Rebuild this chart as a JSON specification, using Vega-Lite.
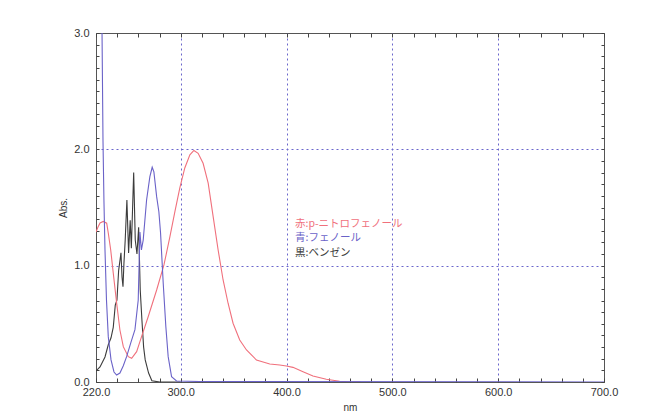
{
  "$schema": "https://vega.github.io/schema/vega-lite/v6.json",
  "width": 508,
  "height": 349,
  "autosize": {"type": "none"},
  "padding": {"left": 96, "top": 33, "right": 63, "bottom": 36},
  "background": "white",
  "config": {
    "view": {"stroke": "#555555", "strokeWidth": 1},
    "font": "Liberation Sans"
  },
  "datasets": {
    "spectra": [
      {"compound": "benzene", "nm": 220.0, "abs": 0.095},
      {"compound": "benzene", "nm": 223.8, "abs": 0.13},
      {"compound": "benzene", "nm": 228.5, "abs": 0.215},
      {"compound": "benzene", "nm": 231.6, "abs": 0.32},
      {"compound": "benzene", "nm": 234.2, "abs": 0.38},
      {"compound": "benzene", "nm": 236.3, "abs": 0.47},
      {"compound": "benzene", "nm": 238.2, "abs": 0.66},
      {"compound": "benzene", "nm": 239.8, "abs": 0.705},
      {"compound": "benzene", "nm": 241.4, "abs": 0.96},
      {"compound": "benzene", "nm": 243.6, "abs": 1.11},
      {"compound": "benzene", "nm": 244.6, "abs": 0.9},
      {"compound": "benzene", "nm": 245.5, "abs": 0.82},
      {"compound": "benzene", "nm": 246.4, "abs": 1.02},
      {"compound": "benzene", "nm": 247.6, "abs": 1.22},
      {"compound": "benzene", "nm": 249.2, "abs": 1.565},
      {"compound": "benzene", "nm": 250.8, "abs": 1.11},
      {"compound": "benzene", "nm": 252.3, "abs": 1.39},
      {"compound": "benzene", "nm": 253.4, "abs": 1.15},
      {"compound": "benzene", "nm": 255.6, "abs": 1.8},
      {"compound": "benzene", "nm": 257.1, "abs": 1.22},
      {"compound": "benzene", "nm": 258.7, "abs": 1.1},
      {"compound": "benzene", "nm": 260.3, "abs": 1.33},
      {"compound": "benzene", "nm": 261.8, "abs": 0.79},
      {"compound": "benzene", "nm": 263.4, "abs": 0.53},
      {"compound": "benzene", "nm": 265.0, "abs": 0.3},
      {"compound": "benzene", "nm": 266.5, "abs": 0.19},
      {"compound": "benzene", "nm": 269.7, "abs": 0.077},
      {"compound": "benzene", "nm": 272.8, "abs": 0.01},
      {"compound": "benzene", "nm": 280.4, "abs": 0.0},
      {"compound": "benzene", "nm": 300.0, "abs": 0.0},
      {"compound": "nitrophenol", "nm": 220.0, "abs": 1.29},
      {"compound": "nitrophenol", "nm": 221.9, "abs": 1.333},
      {"compound": "nitrophenol", "nm": 223.8, "abs": 1.367},
      {"compound": "nitrophenol", "nm": 226.9, "abs": 1.38},
      {"compound": "nitrophenol", "nm": 230.1, "abs": 1.365},
      {"compound": "nitrophenol", "nm": 231.6, "abs": 1.281},
      {"compound": "nitrophenol", "nm": 233.9, "abs": 1.135},
      {"compound": "nitrophenol", "nm": 236.3, "abs": 0.937},
      {"compound": "nitrophenol", "nm": 239.5, "abs": 0.679},
      {"compound": "nitrophenol", "nm": 242.6, "abs": 0.447},
      {"compound": "nitrophenol", "nm": 245.8, "abs": 0.304},
      {"compound": "nitrophenol", "nm": 250.5, "abs": 0.218},
      {"compound": "nitrophenol", "nm": 253.7, "abs": 0.204},
      {"compound": "nitrophenol", "nm": 258.4, "abs": 0.261},
      {"compound": "nitrophenol", "nm": 261.5, "abs": 0.347},
      {"compound": "nitrophenol", "nm": 269.3, "abs": 0.561},
      {"compound": "nitrophenol", "nm": 277.3, "abs": 0.791},
      {"compound": "nitrophenol", "nm": 284.2, "abs": 1.006},
      {"compound": "nitrophenol", "nm": 289.8, "abs": 1.247},
      {"compound": "nitrophenol", "nm": 294.5, "abs": 1.462},
      {"compound": "nitrophenol", "nm": 299.2, "abs": 1.668},
      {"compound": "nitrophenol", "nm": 303.9, "abs": 1.84},
      {"compound": "nitrophenol", "nm": 308.7, "abs": 1.952},
      {"compound": "nitrophenol", "nm": 312.5, "abs": 1.99},
      {"compound": "nitrophenol", "nm": 316.5, "abs": 1.966},
      {"compound": "nitrophenol", "nm": 321.2, "abs": 1.88},
      {"compound": "nitrophenol", "nm": 326.0, "abs": 1.709},
      {"compound": "nitrophenol", "nm": 330.7, "abs": 1.421},
      {"compound": "nitrophenol", "nm": 335.4, "abs": 1.135},
      {"compound": "nitrophenol", "nm": 340.1, "abs": 0.877},
      {"compound": "nitrophenol", "nm": 344.8, "abs": 0.677},
      {"compound": "nitrophenol", "nm": 349.5, "abs": 0.505},
      {"compound": "nitrophenol", "nm": 355.8, "abs": 0.361},
      {"compound": "nitrophenol", "nm": 362.2, "abs": 0.275},
      {"compound": "nitrophenol", "nm": 371.6, "abs": 0.189},
      {"compound": "nitrophenol", "nm": 384.2, "abs": 0.155},
      {"compound": "nitrophenol", "nm": 393.6, "abs": 0.146},
      {"compound": "nitrophenol", "nm": 399.9, "abs": 0.138},
      {"compound": "nitrophenol", "nm": 406.1, "abs": 0.126},
      {"compound": "nitrophenol", "nm": 415.6, "abs": 0.089},
      {"compound": "nitrophenol", "nm": 425.0, "abs": 0.052},
      {"compound": "nitrophenol", "nm": 437.6, "abs": 0.023},
      {"compound": "nitrophenol", "nm": 450.2, "abs": 0.006},
      {"compound": "nitrophenol", "nm": 459.6, "abs": 0.0},
      {"compound": "nitrophenol", "nm": 470.0, "abs": 0.0},
      {"compound": "phenol", "nm": 222.8, "abs": 3.3},
      {"compound": "phenol", "nm": 225.7, "abs": 3.0},
      {"compound": "phenol", "nm": 226.6, "abs": 2.08},
      {"compound": "phenol", "nm": 227.5, "abs": 1.56},
      {"compound": "phenol", "nm": 228.5, "abs": 1.135},
      {"compound": "phenol", "nm": 229.9, "abs": 0.705},
      {"compound": "phenol", "nm": 231.6, "abs": 0.39},
      {"compound": "phenol", "nm": 234.2, "abs": 0.19},
      {"compound": "phenol", "nm": 237.0, "abs": 0.086},
      {"compound": "phenol", "nm": 239.5, "abs": 0.06},
      {"compound": "phenol", "nm": 242.6, "abs": 0.077},
      {"compound": "phenol", "nm": 245.8, "abs": 0.14},
      {"compound": "phenol", "nm": 249.0, "abs": 0.22},
      {"compound": "phenol", "nm": 253.0, "abs": 0.34},
      {"compound": "phenol", "nm": 256.8, "abs": 0.45},
      {"compound": "phenol", "nm": 259.9, "abs": 0.705},
      {"compound": "phenol", "nm": 261.5, "abs": 1.29},
      {"compound": "phenol", "nm": 262.9, "abs": 1.135},
      {"compound": "phenol", "nm": 264.6, "abs": 1.22},
      {"compound": "phenol", "nm": 267.8, "abs": 1.565},
      {"compound": "phenol", "nm": 270.9, "abs": 1.765},
      {"compound": "phenol", "nm": 273.1, "abs": 1.846},
      {"compound": "phenol", "nm": 274.7, "abs": 1.806},
      {"compound": "phenol", "nm": 277.3, "abs": 1.593},
      {"compound": "phenol", "nm": 279.4, "abs": 1.464},
      {"compound": "phenol", "nm": 281.0, "abs": 1.281},
      {"compound": "phenol", "nm": 283.5, "abs": 0.851},
      {"compound": "phenol", "nm": 286.0, "abs": 0.475},
      {"compound": "phenol", "nm": 288.2, "abs": 0.218},
      {"compound": "phenol", "nm": 291.4, "abs": 0.046},
      {"compound": "phenol", "nm": 296.1, "abs": 0.009},
      {"compound": "phenol", "nm": 318.0, "abs": 0.004},
      {"compound": "phenol", "nm": 700.0, "abs": 0.0}
    ],
    "labels": [
      {"compound": "nitrophenol", "label": "赤:p-ニトロフェノール", "nm": 408, "abs": 1.36},
      {"compound": "phenol", "label": "青:フェノール", "nm": 408, "abs": 1.235},
      {"compound": "benzene", "label": "黒:ベンゼン", "nm": 408, "abs": 1.105}
    ]
  },
  "layer": [
    {
      "data": {"name": "spectra"},
      "mark": {"type": "line", "strokeWidth": 1.1, "clip": true},
      "encoding": {
        "x": {
          "field": "nm", "type": "quantitative",
          "scale": {"domain": [220, 700], "nice": false, "zero": false},
          "axis": {
            "orient": "bottom",
            "offset": -4,
            "values": [220,240,260,280,300,320,340,360,380,400,420,440,460,480,500,520,540,560,580,600,620,640,660,680,700],
            "labelExpr": "indexof([220,300,400,500,600,700], datum.value) >= 0 ? format(datum.value, '.1f') : ''",
            "labelOverlap": false,
            "labelFlush": false,
            "labelFontSize": 11,
            "labelColor": "#333333",
            "labelPadding": 4,
            "tickSize": 4,
            "tickColor": "#444444",
            "domain": false,
            "grid": true,
            "gridColor": "#6a66cc",
            "gridDash": [2, 3],
            "gridOpacity": {"condition": {"test": "indexof([300,400,500,600], datum.value) >= 0", "value": 1}, "value": 0},
            "title": "nm",
            "titleFontSize": 10,
            "titleFontWeight": "normal",
            "titleColor": "#333333",
            "titlePadding": 5
          }
        },
        "y": {
          "field": "abs", "type": "quantitative",
          "scale": {"domain": [0, 3], "nice": false, "zero": false},
          "axis": {
            "orient": "left",
            "offset": -3,
            "values": [0,0.1,0.2,0.3,0.4,0.5,0.6,0.7,0.8,0.9,1,1.1,1.2,1.3,1.4,1.5,1.6,1.7,1.8,1.9,2,2.1,2.2,2.3,2.4,2.5,2.6,2.7,2.8,2.9,3],
            "labelExpr": "datum.value % 1 == 0 ? format(datum.value, '.1f') : ''",
            "labelOverlap": false,
            "labelFlush": false,
            "labelFontSize": 11,
            "labelColor": "#333333",
            "labelPadding": 7,
            "tickSize": 3,
            "tickColor": "#444444",
            "domain": false,
            "grid": true,
            "gridColor": "#6a66cc",
            "gridDash": [2, 3],
            "gridOpacity": {"condition": {"test": "datum.value == 1 || datum.value == 2", "value": 1}, "value": 0},
            "title": "Abs.",
            "titleFontSize": 10,
            "titleFontWeight": "normal",
            "titleColor": "#333333",
            "titlePadding": 5
          }
        },
        "color": {
          "field": "compound", "type": "nominal",
          "scale": {"domain": ["benzene", "nitrophenol", "phenol"], "range": ["#3c3c3c", "#f0707c", "#6a62c8"]},
          "legend": null
        }
      }
    },
    {
      "data": {"name": "labels"},
      "mark": {"type": "text", "align": "left", "baseline": "middle", "font": "Noto Sans CJK JP", "fontSize": 10.5},
      "encoding": {
        "x": {
          "field": "nm", "type": "quantitative",
          "scale": {"domain": [220, 700], "nice": false, "zero": false},
          "axis": {
            "orient": "top",
            "offset": -4,
            "values": [220,240,260,280,300,320,340,360,380,400,420,440,460,480,500,520,540,560,580,600,620,640,660,680,700],
            "labels": false, "domain": false, "grid": false, "title": null,
            "tickSize": 4, "tickColor": "#444444"
          }
        },
        "y": {
          "field": "abs", "type": "quantitative",
          "scale": {"domain": [0, 3], "nice": false, "zero": false},
          "axis": {
            "orient": "right",
            "offset": -3,
            "values": [0,0.1,0.2,0.3,0.4,0.5,0.6,0.7,0.8,0.9,1,1.1,1.2,1.3,1.4,1.5,1.6,1.7,1.8,1.9,2,2.1,2.2,2.3,2.4,2.5,2.6,2.7,2.8,2.9,3],
            "labels": false, "domain": false, "grid": false, "title": null,
            "tickSize": 3, "tickColor": "#444444"
          }
        },
        "text": {"field": "label"},
        "color": {"field": "compound", "type": "nominal", "legend": null}
      }
    }
  ],
  "resolve": {"axis": {"x": "independent", "y": "independent"}}
}
